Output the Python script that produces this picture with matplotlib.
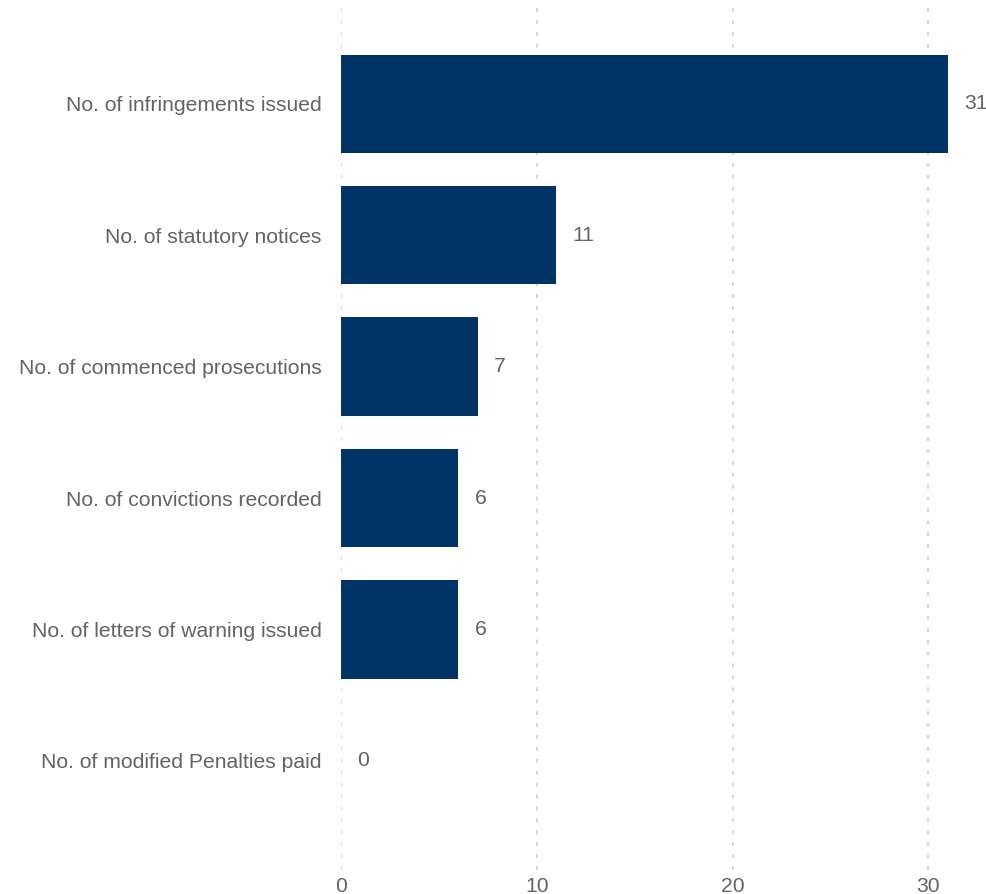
import matplotlib.pyplot as plt

plt.rcParams['font.family'] = ['Liberation Sans', 'DejaVu Sans']

categories = [
    'No. of infringements issued',
    'No. of statutory notices',
    'No. of commenced prosecutions',
    'No. of convictions recorded',
    'No. of letters of warning issued',
    'No. of modified Penalties paid',
]
counts = [31, 11, 7, 6, 6, 0]
x_ticks = [0, 10, 20, 30]

bar_color = '#003366'
text_color = '#636363'

fig = plt.figure(figsize=(9.87, 8.94), dpi=100)
ax = fig.add_axes([0.3455, 0.027, 0.6545, 0.973])

ypos = list(range(len(categories)))
ax.barh(ypos, counts, height=0.75, color=bar_color, zorder=3)

for y, v in zip(ypos, counts):
    ax.annotate(str(v), xy=(v, y), xytext=(16, 0), textcoords='offset pixels',
                ha='left', va='center', fontsize=15.2, color=text_color)

ax.set_xlim(0, 33)
ax.set_ylim(5.83, -0.79)
ax.set_yticks(ypos)
ax.set_yticklabels(categories)
ax.set_xticks(x_ticks)

ax.tick_params(axis='both', length=0, labelsize=15.2, labelcolor=text_color)
ax.tick_params(axis='y', pad=14)
ax.tick_params(axis='x', pad=5)

ax.grid(axis='x', color='#cccccc', linewidth=1.1, linestyle=(0, (2.6, 5.2)), zorder=0)
ax.grid(axis='y', visible=False)
for s in ax.spines.values():
    s.set_visible(False)

fig.savefig('out.png', dpi=100)
